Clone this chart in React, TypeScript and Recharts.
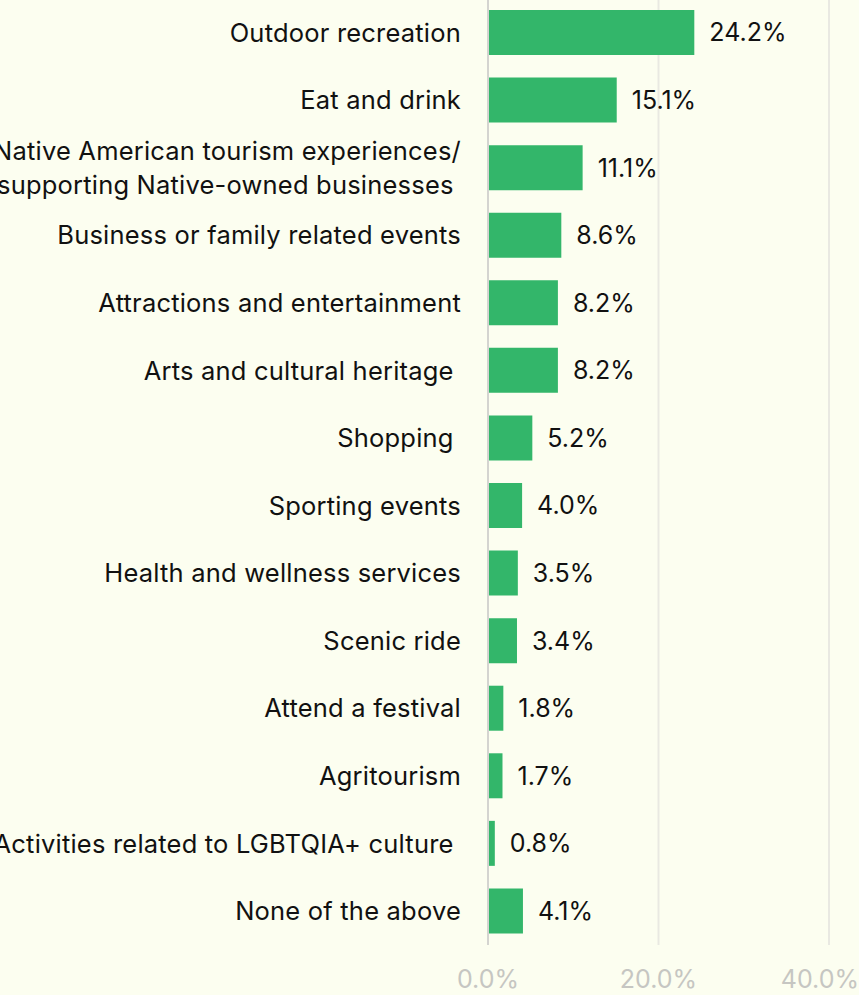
import { Bar, BarChart, CartesianGrid, LabelList, XAxis, YAxis } from "recharts"

const categories = [
  "Outdoor recreation",
  "Eat and drink",
  "Native American tourism experiences/\nsupporting Native-owned businesses ",
  "Business or family related events",
  "Attractions and entertainment",
  "Arts and cultural heritage ",
  "Shopping ",
  "Sporting events",
  "Health and wellness services",
  "Scenic ride",
  "Attend a festival",
  "Agritourism",
  "Activities related to LGBTQIA+ culture ",
  "None of the above",
]

const shares = [24.2, 15.1, 11.1, 8.6, 8.2, 8.2, 5.2, 4.0, 3.5, 3.4, 1.8, 1.7, 0.8, 4.1]

const xTicks = [0, 20, 40]

const data = categories.map((name, i) => ({ name, value: shares[i] }))

const FONT = "Inter, 'Noto Sans', sans-serif"
const FS = 25
const pct = (v: number) => `${v.toFixed(1)}%`

function CategoryTick({ x, y, payload }: any) {
  const lines = String(payload.value).split("\n")
  const lineHeight = 34
  const start = -((lines.length - 1) * lineHeight) / 2
  const tx = x - 19
  return (
    <text
      x={tx}
      y={y}
      textAnchor="end"
      fontSize={25.5}
      letterSpacing={0.2}
      fill="#111"
      fontFamily={FONT}
      style={{ whiteSpace: "pre" }}
    >
      {lines.map((line, i) => (
        <tspan key={i} x={tx} y={y + start + i * lineHeight} dy="0.35em">
          {line}
        </tspan>
      ))}
    </text>
  )
}

export default function App() {
  return (
    <div
      style={{
        position: "absolute",
        left: 0,
        top: 0,
        width: 859,
        height: 995,
        background: "#fcfef0",
        overflow: "hidden",
      }}
    >
      <BarChart
        width={859}
        height={995}
        data={data}
        layout="vertical"
        margin={{ top: -1, right: 30, bottom: 0, left: 0 }}
        barCategoryGap={0}
      >
        <CartesianGrid horizontal={false} stroke="#e9e9e2" strokeWidth={2} />
        <XAxis
          type="number"
          domain={[0, 40]}
          ticks={xTicks}
          tickFormatter={pct}
          axisLine={false}
          tickLine={false}
          tickSize={0}
          tickMargin={25}
          height={50}
          tick={{ fontSize: FS, fill: "#c6c6c2", fontFamily: FONT }}
        />
        <YAxis
          type="category"
          dataKey="name"
          width={488}
          axisLine={{ stroke: "#d4d4d0", strokeWidth: 2 }}
          tickLine={false}
          interval={0}
          tick={<CategoryTick />}
        />
        <Bar dataKey="value" fill="#33b66a" barSize={45} isAnimationActive={false}>
          <LabelList
            dataKey="value"
            position="right"
            offset={15}
            formatter={(v: any) => pct(Number(v))}
            style={{ fontSize: FS, fill: "#111", fontFamily: FONT }}
          />
        </Bar>
      </BarChart>
    </div>
  )
}
